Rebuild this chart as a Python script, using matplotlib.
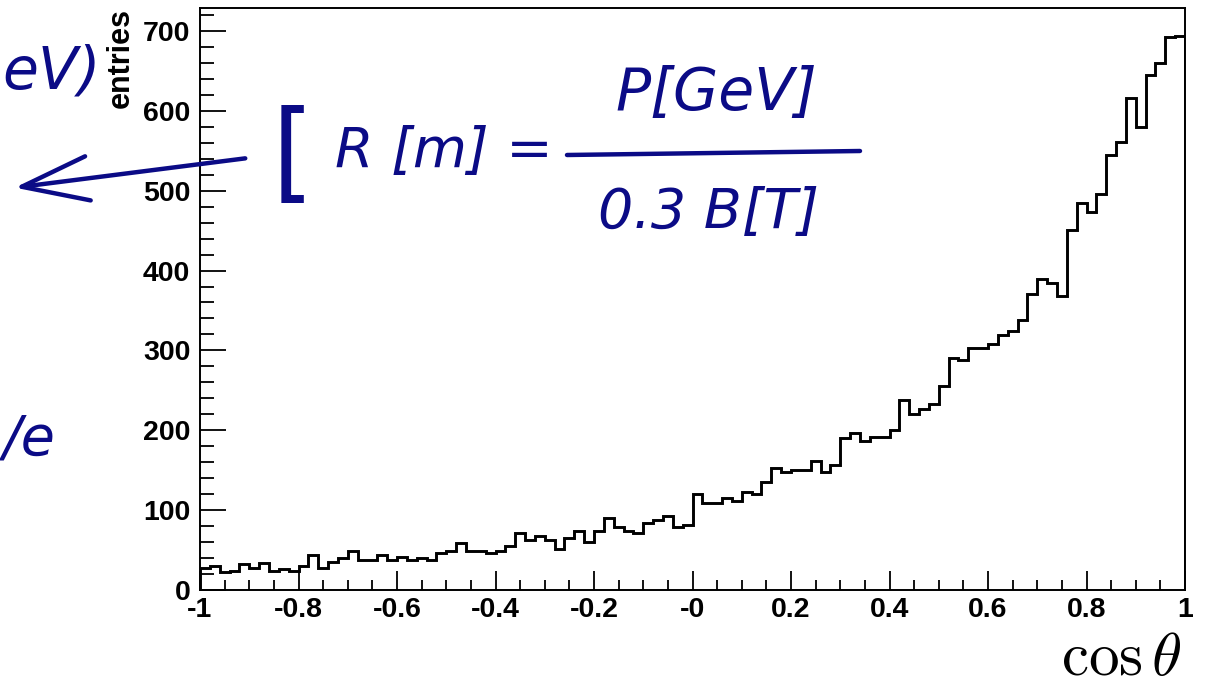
import numpy as np
import matplotlib
matplotlib.use("Agg")
import matplotlib.pyplot as plt
from matplotlib.ticker import MultipleLocator, FixedLocator, FixedFormatter

plt.rcParams['mathtext.fontset'] = 'cm'

# histogram of cos(theta), 100 bins from -1 to 1
counts = [27, 30, 22, 24, 32, 27, 34, 24, 26, 24,
          30, 44, 27, 35, 40, 49, 38, 38, 44, 38,
          41, 37, 40, 37, 46, 49, 59, 49, 49, 46,
          49, 55, 71, 62, 68, 62, 51, 65, 74, 60,
          74, 90, 79, 74, 71, 84, 88, 93, 79, 82,
          120, 109, 109, 115, 112, 123, 120, 135, 153, 148,
          150, 150, 162, 148, 157, 190, 197, 186, 192, 192,
          200, 238, 220, 227, 233, 256, 291, 288, 303, 303,
          308, 319, 324, 338, 371, 390, 385, 368, 451, 485,
          473, 496, 545, 561, 616, 580, 645, 660, 692, 694]
x_lo, x_hi = -1.0, 1.0
x_ticks = [-1, -0.8, -0.6, -0.4, -0.2, 0, 0.2, 0.4, 0.6, 0.8, 1]
x_tick_labels = ['-1', '-0.8', '-0.6', '-0.4', '-0.2', '-0', '0.2', '0.4', '0.6', '0.8', '1']
y_ticks = [0, 100, 200, 300, 400, 500, 600, 700]

W, H = 1205, 689
ink = '#0b0b86'
tick_font = dict(family='Liberation Sans', weight='bold', size=20.5)


def fx(px):
    return px / W


def fy(py):
    return 1 - py / H


fig = plt.figure(figsize=(W / 100, H / 100), dpi=100)
ax = fig.add_axes([fx(200), fy(590), 985 / W, 582 / H])

edges = np.linspace(x_lo, x_hi, len(counts) + 1)
ax.stairs(counts, edges, color='black', linewidth=2.1, baseline=0)

ax.set_xlim(x_lo, x_hi)
ax.set_ylim(0, 1.05 * max(counts))

ax.xaxis.set_major_locator(FixedLocator(x_ticks))
ax.xaxis.set_major_formatter(FixedFormatter(x_tick_labels))
ax.xaxis.set_minor_locator(MultipleLocator(0.05))
ax.yaxis.set_major_locator(FixedLocator(y_ticks))
ax.yaxis.set_minor_locator(MultipleLocator(20))

ax.tick_params(axis='x', which='major', direction='in', length=14, width=1.3, pad=5)
ax.tick_params(axis='x', which='minor', direction='in', length=7, width=1.3)
ax.tick_params(axis='y', which='major', direction='in', length=19, width=1.3, pad=7)
ax.tick_params(axis='y', which='minor', direction='in', length=10, width=1.3)
for lab in ax.get_xticklabels() + ax.get_yticklabels():
    lab.set_fontproperties(matplotlib.font_manager.FontProperties(**tick_font))
for s in ax.spines.values():
    s.set_linewidth(1.4)

fig.text(fx(121), fy(8), 'entries', rotation=90, ha='center', va='top',
         family='Liberation Sans', weight='bold', fontsize=22)
fig.text(fx(1182), fy(688), r'$\cos\theta$', ha='right', va='bottom', fontsize=44)

# handwritten annotations
hw = dict(color=ink, family='DejaVu Sans', style='oblique')
fig.text(fx(2), fy(88), 'eV)', fontsize=42, ha='left', va='baseline', **hw)
fig.text(fx(272), fy(188), '[', fontsize=78, ha='left', va='baseline',
         color=ink, family='DejaVu Sans')
fig.text(fx(335), fy(167), 'R [m] =', fontsize=40, ha='left', va='baseline', **hw)
fig.text(fx(716), fy(110), 'P[GeV]', fontsize=42, ha='center', va='baseline', **hw)
fig.text(fx(708), fy(228), '0.3 B[T]', fontsize=40, ha='center', va='baseline', **hw)
fig.text(fx(2), fy(455), '/e', fontsize=40, ha='left', va='baseline', **hw)
fig.add_artist(matplotlib.lines.Line2D([fx(567), fx(860)], [fy(155), fy(151)],
                                       color=ink, linewidth=3.2, solid_capstyle='round'))
fig.add_artist(matplotlib.patches.FancyArrowPatch(
    (fx(248), fy(158)), (fx(12), fy(188)), transform=fig.transFigure,
    arrowstyle='->,head_length=2.4,head_width=0.8', color=ink, linewidth=3.2,
    mutation_scale=20))

fig.savefig('out.png', dpi=100)
